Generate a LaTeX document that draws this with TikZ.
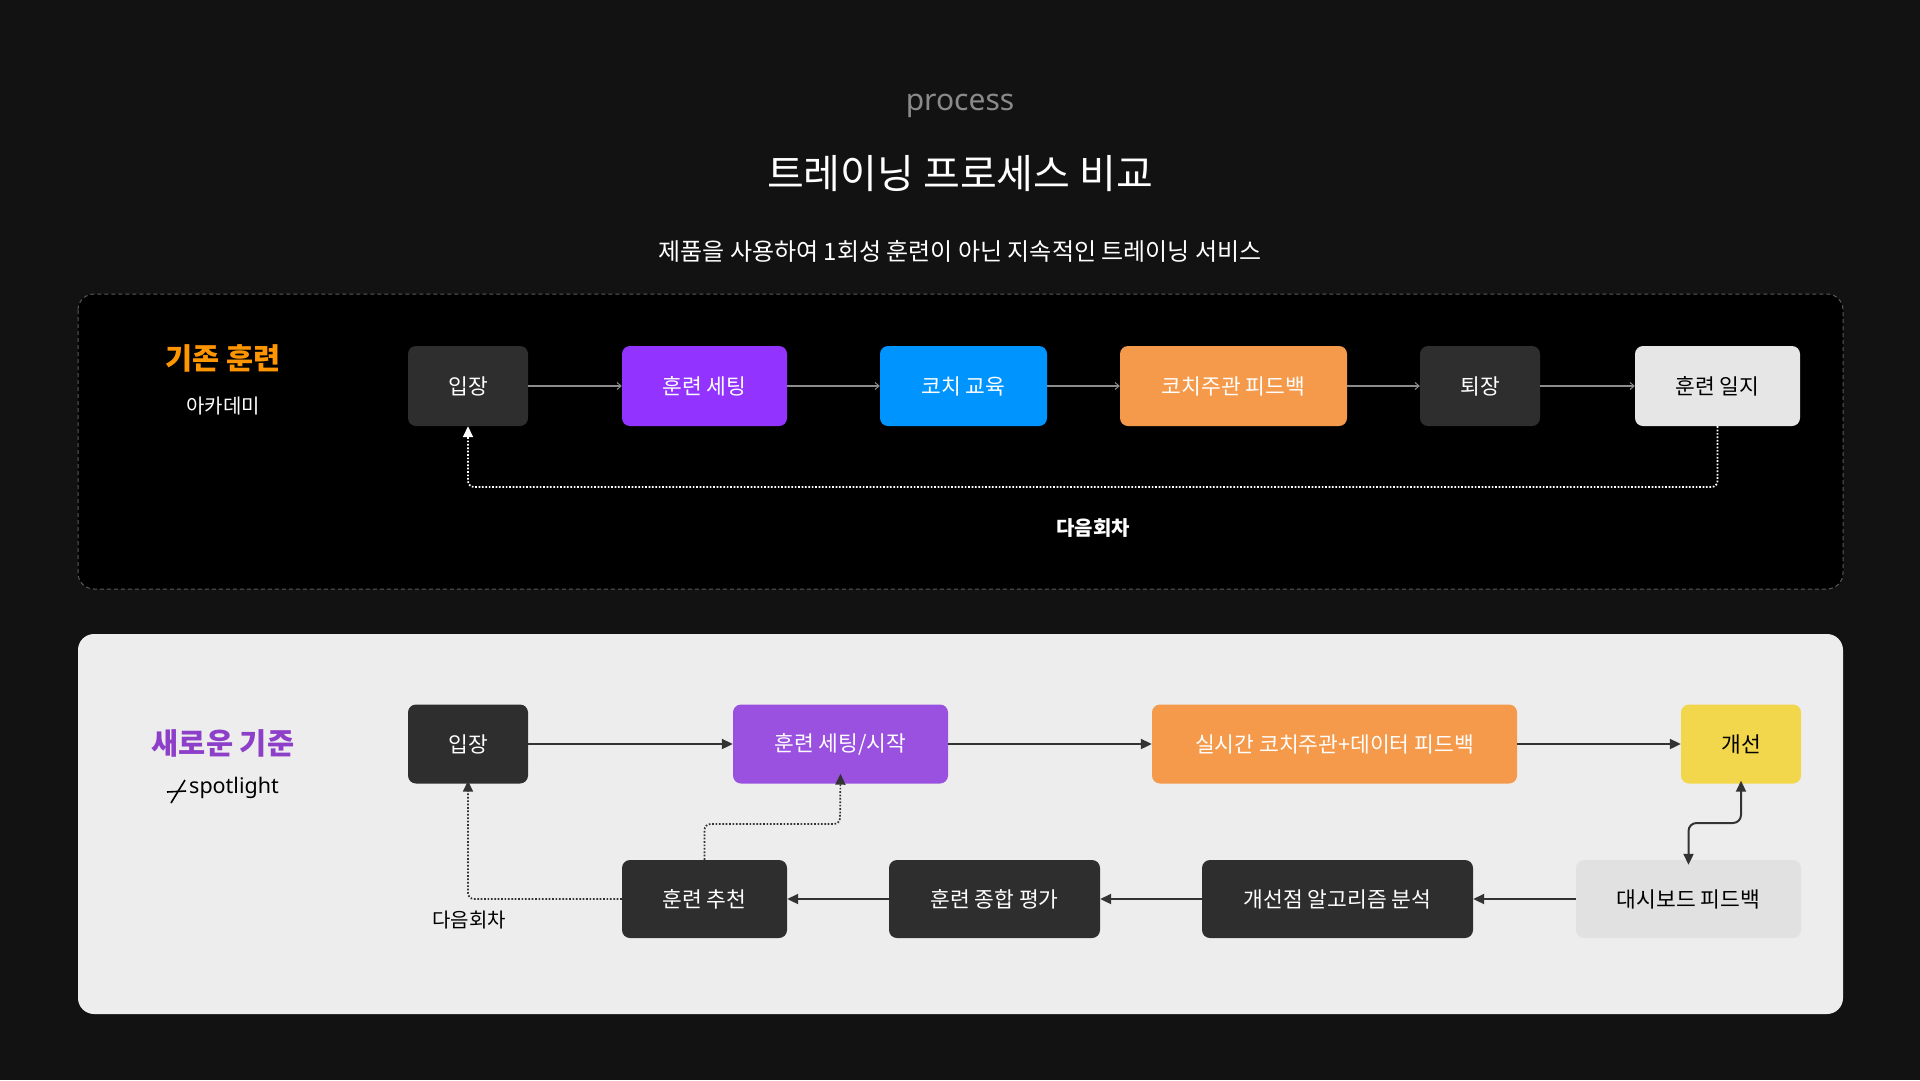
\documentclass[tikz,border=0pt]{standalone}
\usepackage{fontspec}
\setmainfont{Noto Sans CJK KR}
\newfontfamily\latinfont{Noto Sans}
\usetikzlibrary{arrows.meta}
\definecolor{bgc}{HTML}{121212}
\definecolor{lightpanel}{HTML}{EDEDED}
\definecolor{darkbox}{HTML}{2E2E2E}
\definecolor{purpA}{HTML}{9333FF}
\definecolor{purpB}{HTML}{9B51E0}
\definecolor{blueA}{HTML}{0094FF}
\definecolor{orangeA}{HTML}{F59A4B}
\definecolor{yellowA}{HTML}{F2D64B}
\definecolor{lightA}{HTML}{E6E6E6}
\definecolor{lightB}{HTML}{E1E1E1}
\definecolor{graytext}{HTML}{8A8A8A}
\definecolor{orangeT}{HTML}{FF9500}
\definecolor{purpT}{HTML}{8E3FC9}
\definecolor{linegray}{HTML}{8C8C8C}
\definecolor{dashgray}{HTML}{5A5A5A}
\definecolor{arrowdark}{HTML}{333333}
\tikzset{
  box/.style={rounded corners=8pt, inner sep=0pt, font=\fontsize{21.5}{25}\selectfont, text=white},
  topbox/.style={box, minimum height=80pt},
  botbox/.style={box, minimum height=79pt},
  toparrow/.style={draw=linegray, line width=1.2pt, -{Straight Barb[length=4pt,width=7pt,line width=1pt]}},
  botarrow/.style={draw=arrowdark, line width=2pt, -{Triangle[length=11pt,width=10pt]}},
  topdotted/.style={draw=white, line width=1.7pt, dash pattern=on 1.7pt off 1.7pt, rounded corners=6pt, -{Triangle[length=11pt,width=10pt]}},
  botdotted/.style={draw=arrowdark, line width=1.7pt, dash pattern=on 1.7pt off 1.7pt, rounded corners=6pt, -{Triangle[length=11pt,width=10pt]}},
}
\begin{document}
\begin{tikzpicture}[x=1pt,y=-1pt]
\fill[bgc] (0,0) rectangle (1920,1080);
\useasboundingbox (0,0) rectangle (1920,1080);
% headings
\node[text=graytext, font=\latinfont\fontsize{30}{34}\selectfont] (proc) at (960,106) {process};
\node[text=white, font=\fontsize{40}{44}\selectfont] (title) at (960,174) {트레이닝 프로세스 비교};
\node[text=white, font=\fontsize{24}{28}\selectfont] (sub) at (960,251) {제품을 사용하여 1회성 훈련이 아닌 지속적인 트레이닝 서비스};
% panels
\draw[fill=black, draw=dashgray, line width=1pt, dash pattern=on 4pt off 3pt, rounded corners=16pt] (78,294) rectangle (1843,589);
\fill[lightpanel, rounded corners=16pt] (78,634) rectangle (1843,1014);
% top labels
\node[text=orangeT, font=\bfseries\fontsize{29.5}{32}\selectfont] (old) at (223,358) {기존 훈련};
\node[text=white, font=\fontsize{20}{24}\selectfont] (acad) at (223,406) {아카데미};
% top boxes
\node[topbox, fill=darkbox, minimum width=120pt] (t1) at (468,386) {입장};
\node[topbox, fill=purpA, minimum width=165pt] (t2) at (704.5,386) {훈련 세팅};
\node[topbox, fill=blueA, minimum width=167pt] (t3) at (963.5,386) {코치 교육};
\node[topbox, fill=orangeA, minimum width=227pt] (t4) at (1233.5,386) {코치주관 피드백};
\node[topbox, fill=darkbox, minimum width=120pt] (t5) at (1480,386) {퇴장};
\node[topbox, fill=lightA, text=black, minimum width=165pt] (t6) at (1717.5,386) {훈련 일지};
\draw[toparrow] (t1) -- (t2);
\draw[toparrow] (t2) -- (t3);
\draw[toparrow] (t3) -- (t4);
\draw[toparrow] (t4) -- (t5);
\draw[toparrow] (t5) -- (t6);
\coordinate (loopy) at (0,487);
\draw[topdotted] (t6.south) -- (t6.south |- loopy) -- (t1.south |- loopy) -- (t1.south);
\node[text=white, font=\bfseries\fontsize{20}{24}\selectfont] (next1) at (1093,528) {다음회차};
% bottom labels
\node[text=purpT, font=\bfseries\fontsize{29.5}{32}\selectfont] (new) at (223,743) {새로운 기준};
\node[anchor=west, text=black, font=\latinfont\fontsize{21.5}{24}\selectfont, inner sep=0pt] (spot) at (189,788) {spotlight};
\coordinate (lg1) at (171,803);
\coordinate (lg2) at (185,780);
\coordinate (lg3) at (167,792);
\coordinate (lg4) at (186,791);
\draw[black, line width=1.6pt] (lg1) -- (lg2);
\draw[black, line width=1.6pt] (lg3) -- (lg4);
% bottom boxes
\node[botbox, fill=darkbox, minimum width=120pt] (b1) at (468,744) {입장};
\node[botbox, fill=purpB, minimum width=215pt] (b2) at (840.5,744) {훈련 세팅/시작};
\node[botbox, fill=orangeA, minimum width=365pt] (b3) at (1334.5,744) {실시간 코치주관+데이터 피드백};
\node[botbox, fill=yellowA, text=black, minimum width=120pt] (b4) at (1741,744) {개선};
\node[botbox, fill=lightB, text=black, minimum width=225pt, minimum height=78pt] (b5) at (1688.5,899) {대시보드 피드백};
\node[botbox, fill=darkbox, minimum width=271pt, minimum height=78pt] (b6) at (1337.5,899) {개선점 알고리즘 분석};
\node[botbox, fill=darkbox, minimum width=211pt, minimum height=78pt] (b7) at (994.5,899) {훈련 종합 평가};
\node[botbox, fill=darkbox, minimum width=165pt, minimum height=78pt] (b8) at (704.5,899) {훈련 추천};
\draw[botarrow] (b1) -- (b2);
\draw[botarrow] (b2) -- (b3);
\draw[botarrow] (b3) -- (b4);
\draw[botarrow] (b5) -- (b6);
\draw[botarrow] (b6) -- (b7);
\draw[botarrow] (b7) -- (b8);
% two-way link
\coordinate (midy) at (0,823);
\draw[draw=arrowdark, line width=2pt, rounded corners=8pt, {Triangle[length=11pt,width=10pt]}-{Triangle[length=11pt,width=10pt]}] ([yshift=3pt]b4.south) -- (b4.south |- midy) -- (b5.north |- midy) -- ([yshift=-5pt]b5.north);
% dotted loops
\coordinate (d1y) at (0,824);
\coordinate (d2x) at (840,0);
\draw[botdotted] (b8.north) -- (b8.north |- d1y) -- (d2x |- d1y) -- ([yshift=10pt]b2.south);
\draw[botdotted] (b8.west) -- (b1.south |- b8.west) -- ([yshift=3pt]b1.south);
\node[text=black, font=\fontsize{20}{24}\selectfont] (next2) at (469,920) {다음회차};
\end{tikzpicture}
\end{document}
